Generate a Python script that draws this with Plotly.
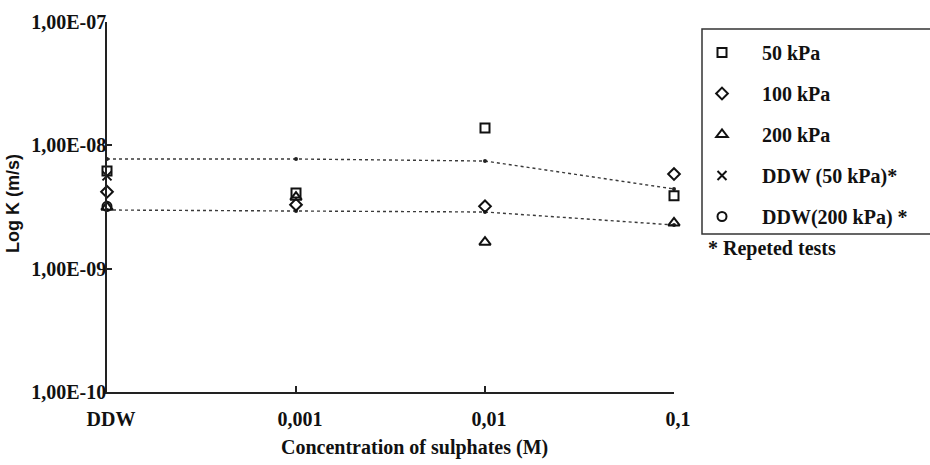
import plotly.graph_objects as go

# ---- data ----
concentration_labels = ["DDW", "0,001", "0,01", "0,1"]
x_pos = [0, 1, 2, 3]

k_50kpa = [6.2e-9, 4.1e-9, 1.38e-8, 3.9e-9]
k_100kpa = [4.2e-9, 3.3e-9, 3.2e-9, 5.85e-9]
k_200kpa = [3.15e-9, 3.8e-9, 1.64e-9, 2.35e-9]
k_ddw_50_rep = [5.65e-9]
k_ddw_200_rep = [3.2e-9]

trend_upper = [7.75e-9, 7.75e-9, 7.46e-9, 4.43e-9]
trend_lower = [2.99e-9, 2.93e-9, 2.88e-9, 2.26e-9]

y_tickvals = [1e-10, 1e-9, 1e-8, 1e-7]
y_ticktext = ["1,00E-10", "1,00E-09", "1,00E-08", "1,00E-07"]

NBSP = "\u00a0" * 4
SERIF = "Liberation Serif"

fig = go.Figure()

# trend lines
for yy in (trend_upper, trend_lower):
    fig.add_trace(go.Scatter(
        x=x_pos, y=yy, mode="lines+markers", showlegend=False,
        line=dict(color="#3a3a3a", width=1.4, dash="dot"),
        marker=dict(size=4, color="#222"), cliponaxis=False, hoverinfo="skip"))

mk_line = dict(color="#111", width=2)
series = [
    (x_pos, k_50kpa, "square-open", "50 kPa", 9),
    (x_pos, k_100kpa, "diamond-open", "100 kPa", 9),
    (x_pos, k_200kpa, "triangle-up-open", "200 kPa", 10),
    ([0], k_ddw_50_rep, "x-thin-open", "DDW (50 kPa)*", 9),
    ([0], k_ddw_200_rep, "circle-open", "DDW(200 kPa) *", 9),
]
for i, (xx, yy, sym, name, sz) in enumerate(series):
    fig.add_trace(go.Scatter(
        x=xx, y=yy, mode="markers", name=NBSP + name, legendgroup=f"g{i}",
        marker=dict(symbol=sym, size=sz, color="#111", line=mk_line),
        cliponaxis=False))

L, R, T, B = 107, 256, 22, 73
PW, PH = 930 - L - R, 465 - T - B

def px(xp):
    return (xp - L) / PW

def py(yp):
    return (465 - B - yp) / PH

fig.update_layout(
    width=930, height=465,
    margin=dict(l=L, r=R, t=T, b=B, autoexpand=False),
    paper_bgcolor="white", plot_bgcolor="white",
    font=dict(family=SERIF, size=20, color="#111"),
    showlegend=True,
    legend=dict(x=px(702), y=py(33), xanchor="left", yanchor="top",
                bgcolor="rgba(0,0,0,0)", borderwidth=0,
                font=dict(family=SERIF, size=20, color="#111", weight=700),
                tracegroupgap=12, itemsizing="trace"),
    xaxis=dict(range=[0, 3], tickmode="array", tickvals=x_pos,
               ticktext=concentration_labels, showgrid=False, zeroline=False,
               showline=True, linecolor="#222", linewidth=1.5,
               ticks="inside", ticklen=6, tickcolor="#222", tickwidth=1.5,
               tickfont=dict(family=SERIF, size=20, color="#111", weight=700),
               ticklabelshift=4, ticklabelstandoff=8),
    yaxis=dict(type="log", range=[-10, -7], tickmode="array",
               tickvals=y_tickvals, ticktext=y_ticktext, showgrid=False,
               zeroline=False, showline=True, linecolor="#222", linewidth=1.5,
               ticks="inside", ticklen=5, tickcolor="#222", tickwidth=1.5,
               tickfont=dict(family=SERIF, size=20, color="#111", weight=700),
               ticklabelstandoff=-5),
    shapes=[dict(type="rect", xref="paper", yref="paper",
                 x0=px(702), x1=px(945), y0=py(234), y1=py(29),
                 line=dict(color="#333", width=1.5))],
    annotations=[
        dict(text="Concentration of sulphates (M)", xref="paper", yref="paper",
             x=px(414), y=py(447), xanchor="center", yanchor="middle",
             showarrow=False,
             font=dict(family=SERIF, size=20, color="#111", weight=700)),
        dict(text="Log K (m/s)", xref="paper", yref="paper",
             x=px(13), y=py(204), xanchor="center", yanchor="middle",
             textangle=-90, showarrow=False,
             font=dict(family="Liberation Sans", size=18, color="#111", weight=700)),
        dict(text="* Repeted tests", xref="paper", yref="paper",
             x=px(706), y=py(248), xanchor="left", yanchor="middle",
             showarrow=False,
             font=dict(family=SERIF, size=20, color="#111", weight=700)),
    ],
)

fig.write_html("out.html")
